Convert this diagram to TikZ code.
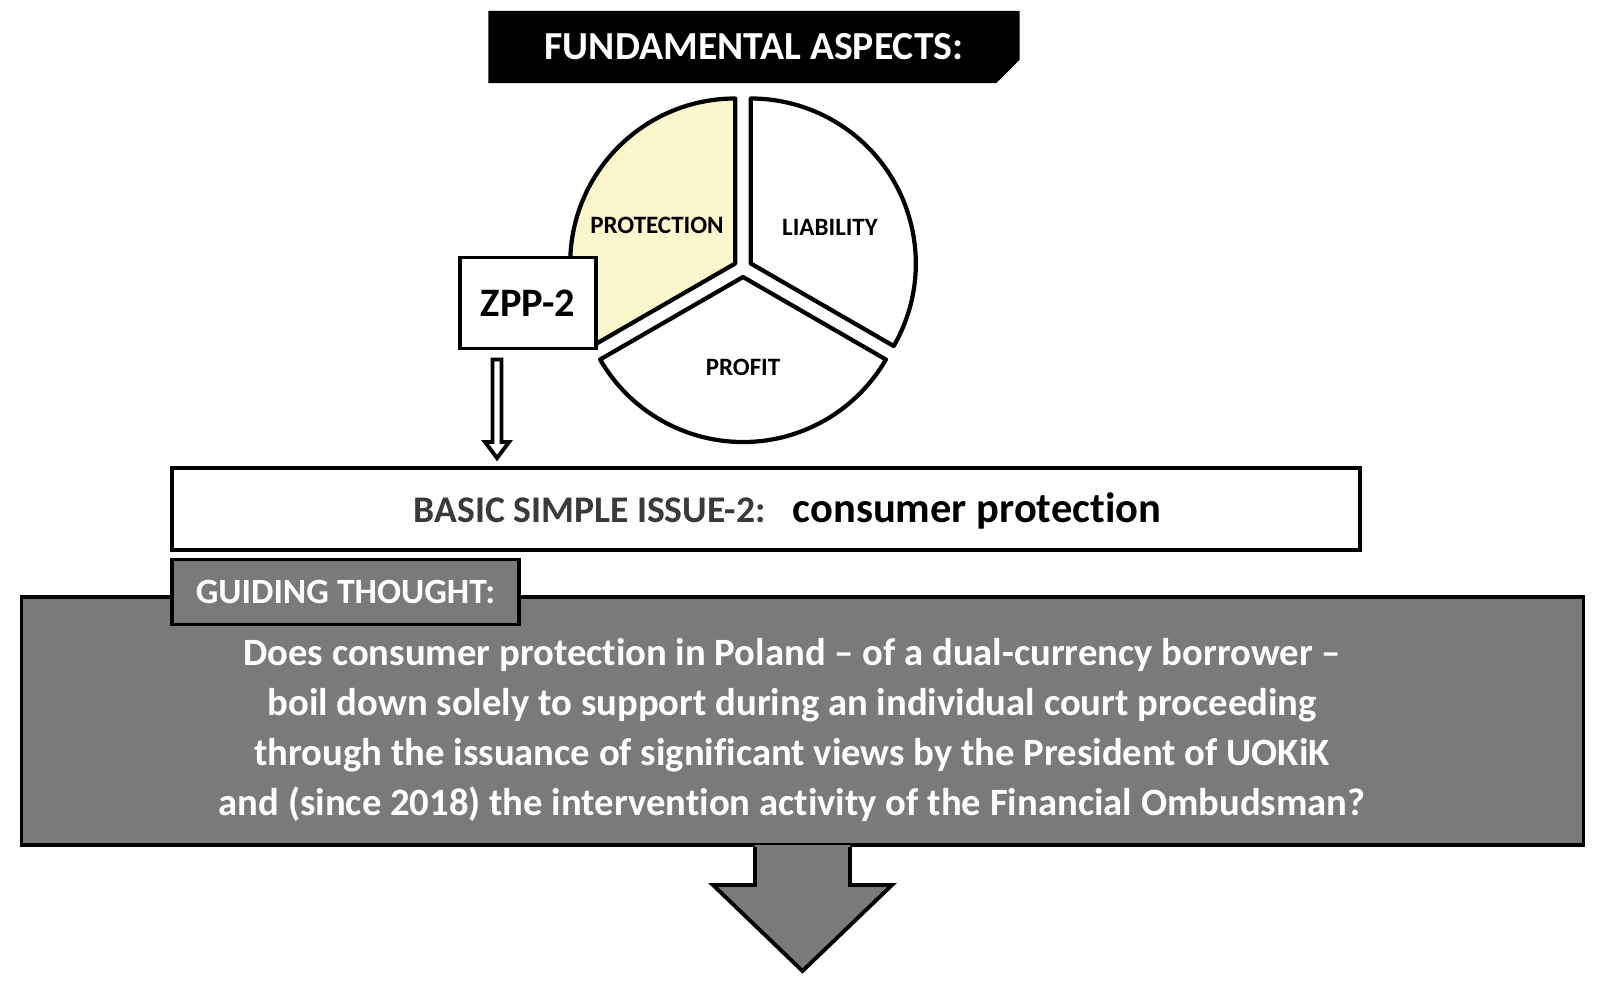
\documentclass[tikz,border=0pt]{standalone}
\usepackage{fontspec}
\setmainfont{Carlito}[Ligatures={TeX,NoCommon}]
\usetikzlibrary{arrows.meta, positioning, shapes.misc, calc}

\definecolor{protfill}{RGB}{251,246,204}
\definecolor{thoughtgray}{RGB}{122,122,122}
\definecolor{issuegray}{RGB}{58,58,58}

\begin{document}
\begin{tikzpicture}[x=0.01cm, y=0.01cm,
  wedge/.style={draw=black, line width=1.2pt, line join=round},
  piecap/.style={font=\bfseries\fontsize{7.1}{8}\selectfont},
  framebox/.style={draw=black, line width=1.1pt, fill=white, inner sep=0pt},
  graybox/.style={draw=black, line width=1.1pt, fill=thoughtgray, inner sep=0pt},
  hollowarrow/.style={draw=black, line width=1.1pt, fill=white, line join=miter}]

  \useasboundingbox (0,0) rectangle (1603,981);

  % Title bar
  \node[chamfered rectangle, chamfered rectangle corners=south east,
        chamfered rectangle xsep=0.12cm, fill=black, inner sep=0pt,
        minimum width=5.31cm, minimum height=0.72cm, text=white,
        font=\bfseries\fontsize{11.3}{12}\selectfont] (title) at (754,934) {FUNDAMENTAL ASPECTS:};

  % Pie of the three aspects
  \coordinate (pie) at (743,713);
  \draw[wedge, fill=protfill] ($(pie)+(150:9)$) -- ++(90:165)
    arc[start angle=90, end angle=210, radius=165] -- cycle;
  \draw[wedge, fill=white] ($(pie)+(30:9)$) -- ++(-30:165)
    arc[start angle=-30, end angle=90, radius=165] -- cycle;
  \draw[wedge, fill=white] ($(pie)+(270:9)$) -- ++(210:165)
    arc[start angle=210, end angle=330, radius=165] -- cycle;
  \node[piecap] (protection) at (657,756) {PROTECTION};
  \node[piecap] (liability) at (830,754) {LIABILITY};
  \node[piecap] (profit) at (743,614) {PROFIT};

  % ZPP-2 label
  \node[framebox, minimum width=1.36cm, minimum height=0.91cm,
        font=\bfseries\fontsize{11.5}{14}\selectfont] (zpp) at (528,678) {ZPP-2};

  % Basic issue
  \node[framebox, minimum width=11.88cm, minimum height=0.82cm] (issue) at (766,472) {};
  \node[anchor=base west, inner sep=0pt, text=issuegray,
        font=\bfseries\fontsize{10.7}{12}\selectfont] (issuelbl) at (413,459) {BASIC SIMPLE ISSUE-2:};
  \node[anchor=base west, inner sep=0pt,
        font=\bfseries\fontsize{12.1}{14}\selectfont] (issuetxt) at (792,459) {consumer protection};

  % hollow arrow ZPP-2 -> issue
  \coordinate (zppout) at ($(zpp.south west)+(39,-9)$);
  \coordinate (zpptip) at ($(zppout |- issue.north)+(0,8)$);
  \draw[hollowarrow] ($(zppout)+(-4.5,0)$) -- ($(zpptip)+(-4.5,16)$) -- ($(zpptip)+(-12,16)$)
    -- (zpptip) -- ($(zpptip)+(12,16)$) -- ($(zpptip)+(4.5,16)$) -- ($(zppout)+(4.5,0)$) -- cycle;

  % Guiding thought
  \node[graybox, minimum width=15.61cm, minimum height=2.48cm] (thought) at (802.5,260) {};
  \fill[thoughtgray] ($(thought.south)+(-47.5,2)$) -- ++(0,-40) -- ++(-42,0)
    -- ($(thought.south)+(0,-124)$) -- ($(thought.south)+(89.5,-38)$)
    -- ++(-42,0) -- ++(0,40) -- cycle;
  \draw[line width=1.1pt] ($(thought.south)+(-47.5,0)$) -- ++(0,-38) -- ++(-42,0)
    -- ($(thought.south)+(0,-124)$) -- ($(thought.south)+(89.5,-38)$)
    -- ++(-42,0) -- ++(0,38);
  \node[graybox, minimum width=3.47cm, minimum height=0.65cm, text=white,
        font=\bfseries\fontsize{10.1}{11}\selectfont] (guide) at (345.5,389) {GUIDING THOUGHT:};
  \node[anchor=base, align=center, inner sep=0pt, text=white,
        font=\bfseries\fontsize{11}{14.2}\selectfont] (question) at (792,166)
    {Does consumer protection in Poland – of a dual-currency borrower –\\
     boil down solely to support during an individual court proceeding\\
     through the issuance of significant views by the President of UOKiK\\
     and (since 2018) the intervention activity of the Financial Ombudsman?};
\end{tikzpicture}
\end{document}
